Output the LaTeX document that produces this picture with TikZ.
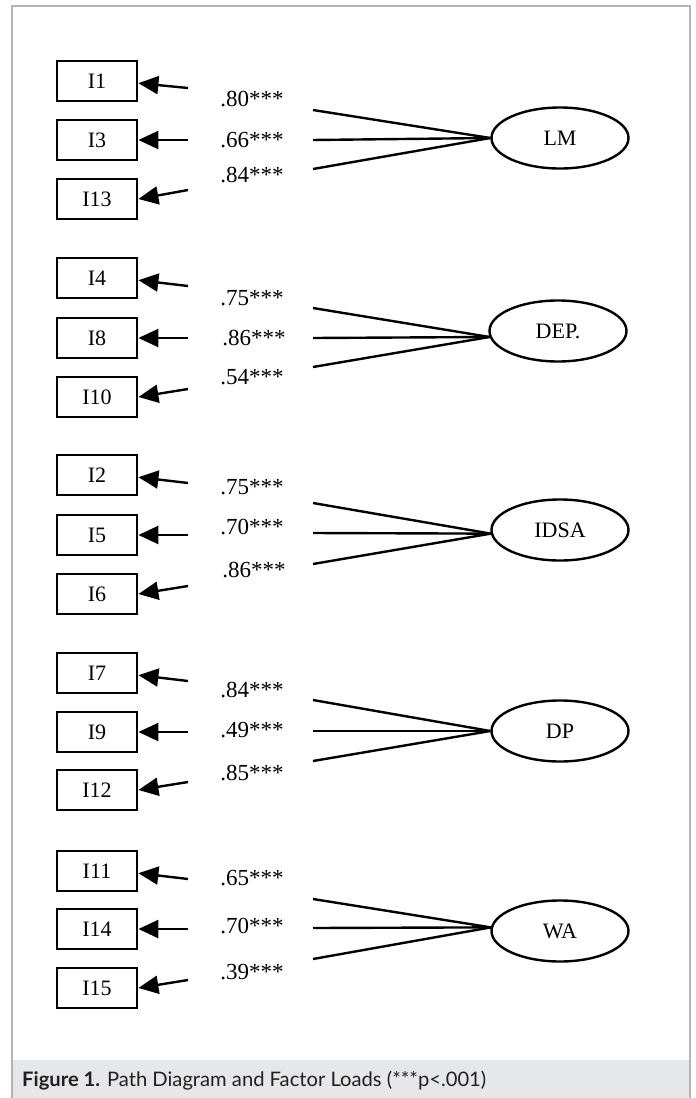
\documentclass[tikz,border=0pt]{standalone}
\usepackage{fontspec}
\setmainfont{Liberation Serif}
\newfontfamily\capfont{Lato}
\usetikzlibrary{arrows.meta,shapes.geometric}
\definecolor{framegray}{HTML}{B4B4B4}
\definecolor{bandgray}{HTML}{E6E7E8}
\definecolor{captext}{HTML}{231F20}
\begin{document}
\begin{tikzpicture}[x=1pt,y=-1pt,
  obs/.style={draw, line width=2.8pt, minimum width=80pt, minimum height=40pt, inner sep=0pt, font=\fontsize{22}{24}\selectfont},
  lat/.style={draw, ellipse, line width=2.4pt, minimum width=137pt, minimum height=61pt, inner sep=0pt, font=\fontsize{22}{24}\selectfont},
  load/.style={inner sep=0pt, font=\fontsize{23}{25}\selectfont},
  ind/.style={line width=2.4pt},
  arr/.style={line width=2.4pt, -{Triangle[length=20pt,width=18pt]}},
]
\useasboundingbox (0,0) rectangle (696,1098);
\fill[bandgray] (12,1060) rectangle (690,1098);
\draw[framegray, line width=1.5pt] (12,1098) -- (12,6) -- (690,6) -- (690,1098);
\node[anchor=base west, inner sep=0pt, text=captext] (cap) at (22,1086)
  {\resizebox{464pt}{\height}{\capfont\fontsize{20}{24}\selectfont\textbf{Figure 1.} Path Diagram and Factor Loads (***p<.001)}};

% ---------- group 1: LM ----------
\node[lat] (LM) at (560,138) {LM};
\node[obs] (I1) at (97,81) {I1};
\node[obs] (I3) at (97,140) {I3};
\node[obs] (I13) at (97,199) {I13};
\node[load] (l1) at (252,99) {.80***};
\node[load] (l3) at (252,140) {.66***};
\node[load] (l13) at (252,175) {.84***};
\coordinate (a1) at (313,110);  \coordinate (b1) at (188,88);
\coordinate (a3) at (313,140);  \coordinate (b3) at (188,140);
\coordinate (a13) at (313,169); \coordinate (b13) at (188,190);
\draw[ind] (LM.west) -- (a1);  \draw[arr] (b1) -- (I1.-3);
\draw[ind] (LM.west) -- (a3);  \draw[arr] (b3) -- (I3.east);
\draw[ind] (LM.west) -- (a13); \draw[arr] (b13) -- (I13.east);

% ---------- group 2: DEP. ----------
\node[lat] (DEP) at (558,331) {DEP.};
\node[obs] (I4) at (97,278) {I4};
\node[obs] (I8) at (97,338) {I8};
\node[obs] (I10) at (97,397) {I10};
\node[load] (l4) at (252,298) {.75***};
\node[load] (l8) at (254,338) {.86***};
\node[load] (l10) at (252,377) {.54***};
\coordinate (a4) at (313,308);  \coordinate (b4) at (188,286);
\coordinate (a8) at (313,338);  \coordinate (b8) at (188,338);
\coordinate (a10) at (313,367); \coordinate (b10) at (188,389);
\draw[ind] (DEP.185) -- (a4);  \draw[arr] (b4) -- (I4.-3);
\draw[ind] (DEP.185) -- (a8);  \draw[arr] (b8) -- (I8.east);
\draw[ind] (DEP.185) -- (a10); \draw[arr] (b10) -- (I10.east);

% ---------- group 3: IDSA ----------
\node[lat] (IDSA) at (560,530) {IDSA};
\node[obs] (I2) at (97,475) {I2};
\node[obs] (I5) at (97,535) {I5};
\node[obs] (I6) at (97,594) {I6};
\node[load] (l2) at (252,487) {.75***};
\node[load] (l5) at (252,527) {.70***};
\node[load] (l6) at (254,570) {.86***};
\coordinate (a2) at (313,503);  \coordinate (b2) at (188,483);
\coordinate (a5) at (313,533);  \coordinate (b5) at (188,535);
\coordinate (a6) at (313,564);  \coordinate (b6) at (188,586);
\draw[ind] (IDSA.183) -- (a2); \draw[arr] (b2) -- (I2.-3);
\draw[ind] (IDSA.183) -- (a5); \draw[arr] (b5) -- (I5.east);
\draw[ind] (IDSA.183) -- (a6); \draw[arr] (b6) -- (I6.east);

% ---------- group 4: DP ----------
\node[lat] (DP) at (560,731) {DP};
\node[obs] (I7) at (97,673) {I7};
\node[obs] (I9) at (97,732) {I9};
\node[obs] (I12) at (97,790) {I12};
\node[load] (l7) at (252,690) {.84***};
\node[load] (l9) at (252,730) {.49***};
\node[load] (l12) at (252,773) {.85***};
\coordinate (a7) at (313,700);  \coordinate (b7) at (188,681);
\coordinate (a9) at (313,731);  \coordinate (b9) at (188,732);
\coordinate (a12) at (313,761); \coordinate (b12) at (188,782);
\draw[ind] (DP.west) -- (a7);  \draw[arr] (b7) -- (I7.-3);
\draw[ind] (DP.west) -- (a9);  \draw[arr] (b9) -- (I9.east);
\draw[ind] (DP.west) -- (a12); \draw[arr] (b12) -- (I12.east);

% ---------- group 5: WA ----------
\node[lat] (WA) at (560,931) {WA};
\node[obs] (I11) at (97,871) {I11};
\node[obs] (I14) at (97,929) {I14};
\node[obs] (I15) at (97,988) {I15};
\node[load] (l11) at (252,878) {.65***};
\node[load] (l14) at (252,926) {.70***};
\node[load] (l15) at (252,972) {.39***};
\coordinate (a11) at (313,899); \coordinate (b11) at (188,879);
\coordinate (a14) at (313,928); \coordinate (b14) at (188,929);
\coordinate (a15) at (313,959); \coordinate (b15) at (188,980);
\draw[ind] (WA.177) -- (a11); \draw[arr] (b11) -- (I11.-3);
\draw[ind] (WA.177) -- (a14); \draw[arr] (b14) -- (I14.east);
\draw[ind] (WA.177) -- (a15); \draw[arr] (b15) -- (I15.east);
\end{tikzpicture}
\end{document}
